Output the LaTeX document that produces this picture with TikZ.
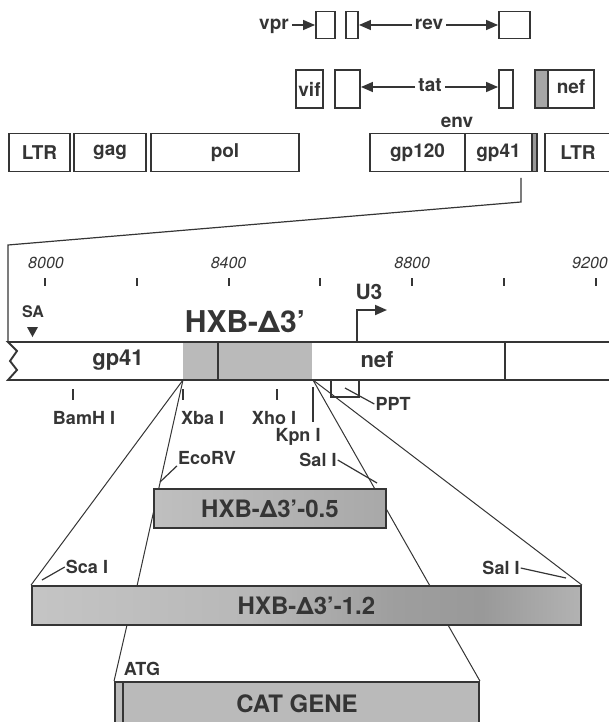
\documentclass[tikz,border=0pt]{standalone}
\usepackage{fontspec}
\setmainfont{TeX Gyre Heros}
\usepackage{tikz}
\usetikzlibrary{arrows.meta}
\usetikzlibrary{backgrounds}
\usepackage{xcolor}
\definecolor{ink}{HTML}{353535}
\newcommand{\fsz}[1]{\fontsize{#1}{#1}\selectfont}
\pgfdeclarehorizontalshading{probeshade}{100bp}{color(0bp)=(black!23); color(25bp)=(black!23); color(45bp)=(black!28); color(58bp)=(black!38); color(66bp)=(black!40); color(75bp)=(black!30); color(100bp)=(black!30)}

\begin{document}
\begin{tikzpicture}[x=1pt,y=-1pt,
  gene/.style={draw=ink,line width=1.9pt,inner sep=0pt,text=ink,font=\fsz{19}\bfseries},
  probe/.style={draw=ink,line width=1.9pt,inner sep=0pt,text=ink,font=\fsz{24}\bfseries},
  site/.style={text=ink,inner sep=1pt,font=\fsz{18}\bfseries},
  tag/.style={text=ink,inner sep=3pt,text height=10pt,text depth=0pt,font=\fsz{19}\bfseries},
  ruler/.style={text=ink,inner sep=0pt,font=\fsz{16}\itshape},
  link/.style={draw=ink,line width=1.2pt},
  fan/.style={draw=ink,line width=1pt},
  tick/.style={draw=ink,line width=2pt},
  arr/.style={draw=ink,line width=1.5pt,-{Triangle[length=12pt,width=10pt]}}]
\useasboundingbox (0,0) rectangle (609,722);

% accessory genes
\node[tag] (vpr) at (274,25) {vpr};
\node[gene,minimum width=19pt,minimum height=27pt] (vprbox) at (325.5,25) {};
\node[gene,minimum width=12pt,minimum height=27pt] (revA) at (352,25) {};
\node[gene,minimum width=31pt,minimum height=27pt] (revB) at (514.5,25) {};
\node[tag] (rev) at (429,25) {rev};
\draw[arr] (vpr.east) -- (vpr.east -| vprbox.west);
\draw[arr] (rev.west) -- (rev.west -| revA.east);
\draw[arr] (rev.east) -- (rev.east -| revB.west);

\fill[black!35] (535,70) rectangle (548,108);
\node[gene,minimum width=27pt,minimum height=38pt] (vif) at (309.5,89) {vif};
\node[gene,minimum width=25pt,minimum height=38pt] (tatA) at (347.5,89) {};
\node[gene,minimum width=14pt,minimum height=38pt] (tatB) at (506,89) {};
\node[gene,minimum width=59pt,minimum height=38pt] (nefbox) at (564.5,89) {};
\draw[ink,line width=1.9pt] (548,70) -- (548,108);
\node[tag] (neflbl) at (571,89) {nef};
\node[tag] (tat) at (430,87) {tat};
\draw[arr] (tat.west) -- (tat.west -| tatA.east);
\draw[arr] (tat.east) -- (tat.east -| tatB.west);

% genome
\fill[black!40] (532,133.5) rectangle (537,171.5);
\node[gene,minimum width=61pt,minimum height=38pt] (ltrL) at (39.5,152.5) {LTR};
\node[gene,minimum width=72pt,minimum height=38pt] (gag) at (110,152.5) {gag};
\node[gene,minimum width=148pt,minimum height=38pt] (pol) at (225,152.5) {pol};
\node[gene,minimum width=95pt,minimum height=38pt] (gp120) at (417.5,152.5) {gp120};
\node[gene,minimum width=67pt,minimum height=38pt] (gp41) at (498.5,152.5) {gp41};
\node[gene,minimum width=5pt,minimum height=38pt] (envend) at (534.5,152.5) {};
\node[gene,minimum width=66pt,minimum height=38pt] (ltrR) at (578,152.5) {LTR};
\node[text=ink,inner sep=0pt,font=\fsz{19}\bfseries] (env) at (457,122) {env};

% enlarged 3' end
\coordinate (drop) at (521,178);
\coordinate (bend) at (521,202);
\coordinate (corner) at (8,245);
\coordinate (barNW) at (8,342);
\draw[link] (drop) -- (bend) -- (corner) -- (barNW);

\foreach \i in {0,...,6}{
  \draw[tick] (45+91.8*\i,278) -- ++(0,8);
}
\foreach \x/\n in {46/8000,228.6/8400,412.2/8800,590/9200}{
  \node[ruler] (r\n) at (\x,263) {\n};
}

\fill[black!27] (183,342) rectangle (312,380);
\draw[link,line width=1.9pt] (612,342) -- (barNW) -- (17,351) -- (10,361) -- (17,370) -- (8,380) -- (612,380);
\draw[ink,line width=2.4pt] (218,342) -- (218,380);
\draw[ink,line width=1.9pt] (505,342) -- (505,380);
\node[text=ink,inner sep=0pt,font=\fsz{22}\bfseries] (gpbar) at (118,360) {gp41};
\node[text=ink,inner sep=0pt,font=\fsz{22}\bfseries] (nefbar) at (377,360) {nef};

\node[text=ink,inner sep=0pt,font=\fsz{16}\bfseries] (sa) at (33,312) {SA};
\fill[ink] (27,327) -- (38,327) -- (32.5,337) -- cycle;
\node[text=ink,inner sep=0pt,font=\fsz{30}\bfseries] (hxb) at (245,322) {HXB-Δ3'};
\node[text=ink,inner sep=0pt,font=\fsz{21}\bfseries] (u3) at (369,292) {U3};
\coordinate (tss) at (357,342);
\draw[arr,line width=1.9pt] (tss) |- (387,310);

% restriction sites
\foreach \x in {73,183,277}{
  \draw[tick] (\x,389) -- (\x,400);
}
\draw[tick] (313,387) -- (313,422);
\node[site] (bamh) at (84,418) {BamH I};
\node[site,anchor=west] (xba) at (180,418) {Xba I};
\node[site] (xho) at (274,418) {Xho I};
\node[site] (kpn) at (298,437) {Kpn I};
\node[site] (ppt) at (393,404) {PPT};
\draw[link] (331,380) -- (331,397) -- (359,397) -- (359,380);
\draw[link] (345,388) -- (ppt.west);

% probes
\coordinate (cutL) at (183,380);
\coordinate (cutR) at (313,380);
\coordinate (innerL) at (137,586);
\coordinate (innerR) at (430,586);
\coordinate (lowL) at (127,625);
\coordinate (lowR) at (448,625);
\node[probe,minimum width=232pt,minimum height=39pt,left color=black!25,right color=black!34] (short) at (270,508.5) {HXB-Δ3'-0.5};
\node[probe,minimum width=549pt,minimum height=39pt,shading=probeshade] (long) at (306.5,605.5) {HXB-Δ3'-1.2};
\node[probe,minimum width=364pt,minimum height=44pt,fill=black!27] (cat) at (297,704) {CAT GENE};
\draw[ink,line width=1.9pt] (123,682) -- (123,724);
\begin{scope}[on background layer]
  \draw[fan] (cutL) -- (long.north west);
  \draw[fan] (cutL) -- (innerL);
  \draw[fan] (cutR) -- (innerR);
  \draw[fan] (cutR) -- (long.north east);
  \draw[fan] (lowL) -- (cat.north west);
  \draw[fan] (lowR) -- (cat.north east);
\end{scope}

\node[site] (ecorv) at (207,458) {EcoRV};
\node[site] (salA) at (318,460) {Sal I};
\node[site] (sca) at (87,567) {Sca I};
\node[site] (salB) at (501,568) {Sal I};
\node[site] (atg) at (142,669) {ATG};
\draw[link] (ecorv.south west) -- (160,482);
\draw[link] (salA.east) -- (377,483);
\draw[link] (sca.west) -- (42,580);
\draw[link] (salB.east) -- (566,578);
%\draw[link] (atg.south west) -- (cat.north west);
\end{tikzpicture}
\end{document}
